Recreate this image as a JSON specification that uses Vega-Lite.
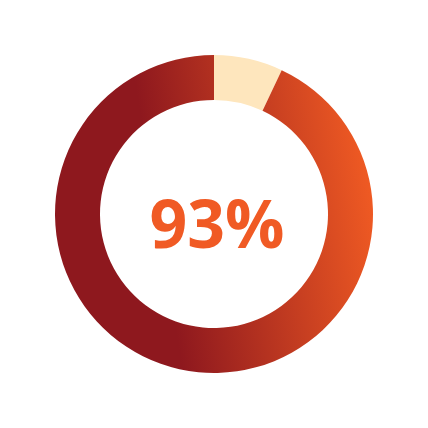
{
  "$schema": "https://vega.github.io/schema/vega-lite/v6.json",
  "description": "Donut showing 93% with a gradient arc and a cream remainder.",
  "autosize": {"type": "fit", "contains": "padding"},
  "width": 428,
  "height": 428,
  "padding": 0,
  "background": "white",
  "view": {"stroke": null},
  "data": {
    "values": [
      {"part": "remaining", "order": 1, "value": 7, "label": "93%"},
      {"part": "score", "order": 2, "value": 93, "label": "93%"}
    ]
  },
  "transform": [
    {"stack": "value", "groupby": [], "sort": [{"field": "order"}], "as": ["start", "end"]}
  ],
  "layer": [
    {
      "transform": [{"filter": "datum.part === 'remaining'"}],
      "mark": {"type": "arc", "outerRadius": 159, "innerRadius": 114, "color": "#FEE6BD"},
      "encoding": {
        "theta": {"field": "start", "type": "quantitative", "scale": {"domain": [0, 100]}},
        "theta2": {"field": "end"}
      }
    },
    {
      "transform": [{"filter": "datum.part === 'score'"}],
      "mark": {
        "type": "arc",
        "outerRadius": 159,
        "innerRadius": 114,
        "color": {
          "gradient": "linear",
          "x1": 0.32, "y1": 0.5,
          "x2": 0.99, "y2": 0.39,
          "stops": [
            {"offset": 0, "color": "#8E181E"},
            {"offset": 1, "color": "#EF5A23"}
          ]
        }
      },
      "encoding": {
        "theta": {"field": "start", "type": "quantitative", "scale": {"domain": [0, 100]}},
        "theta2": {"field": "end"}
      }
    },
    {
      "transform": [{"filter": "datum.part === 'score'"}],
      "mark": {
        "type": "text",
        "font": "Open Sans",
        "fontWeight": "bold",
        "fontSize": 66,
        "color": "#F05A24",
        "baseline": "alphabetic",
        "align": "center",
        "dx": 3,
        "dy": 34
      },
      "encoding": {
        "text": {"field": "label"}
      }
    }
  ]
}
